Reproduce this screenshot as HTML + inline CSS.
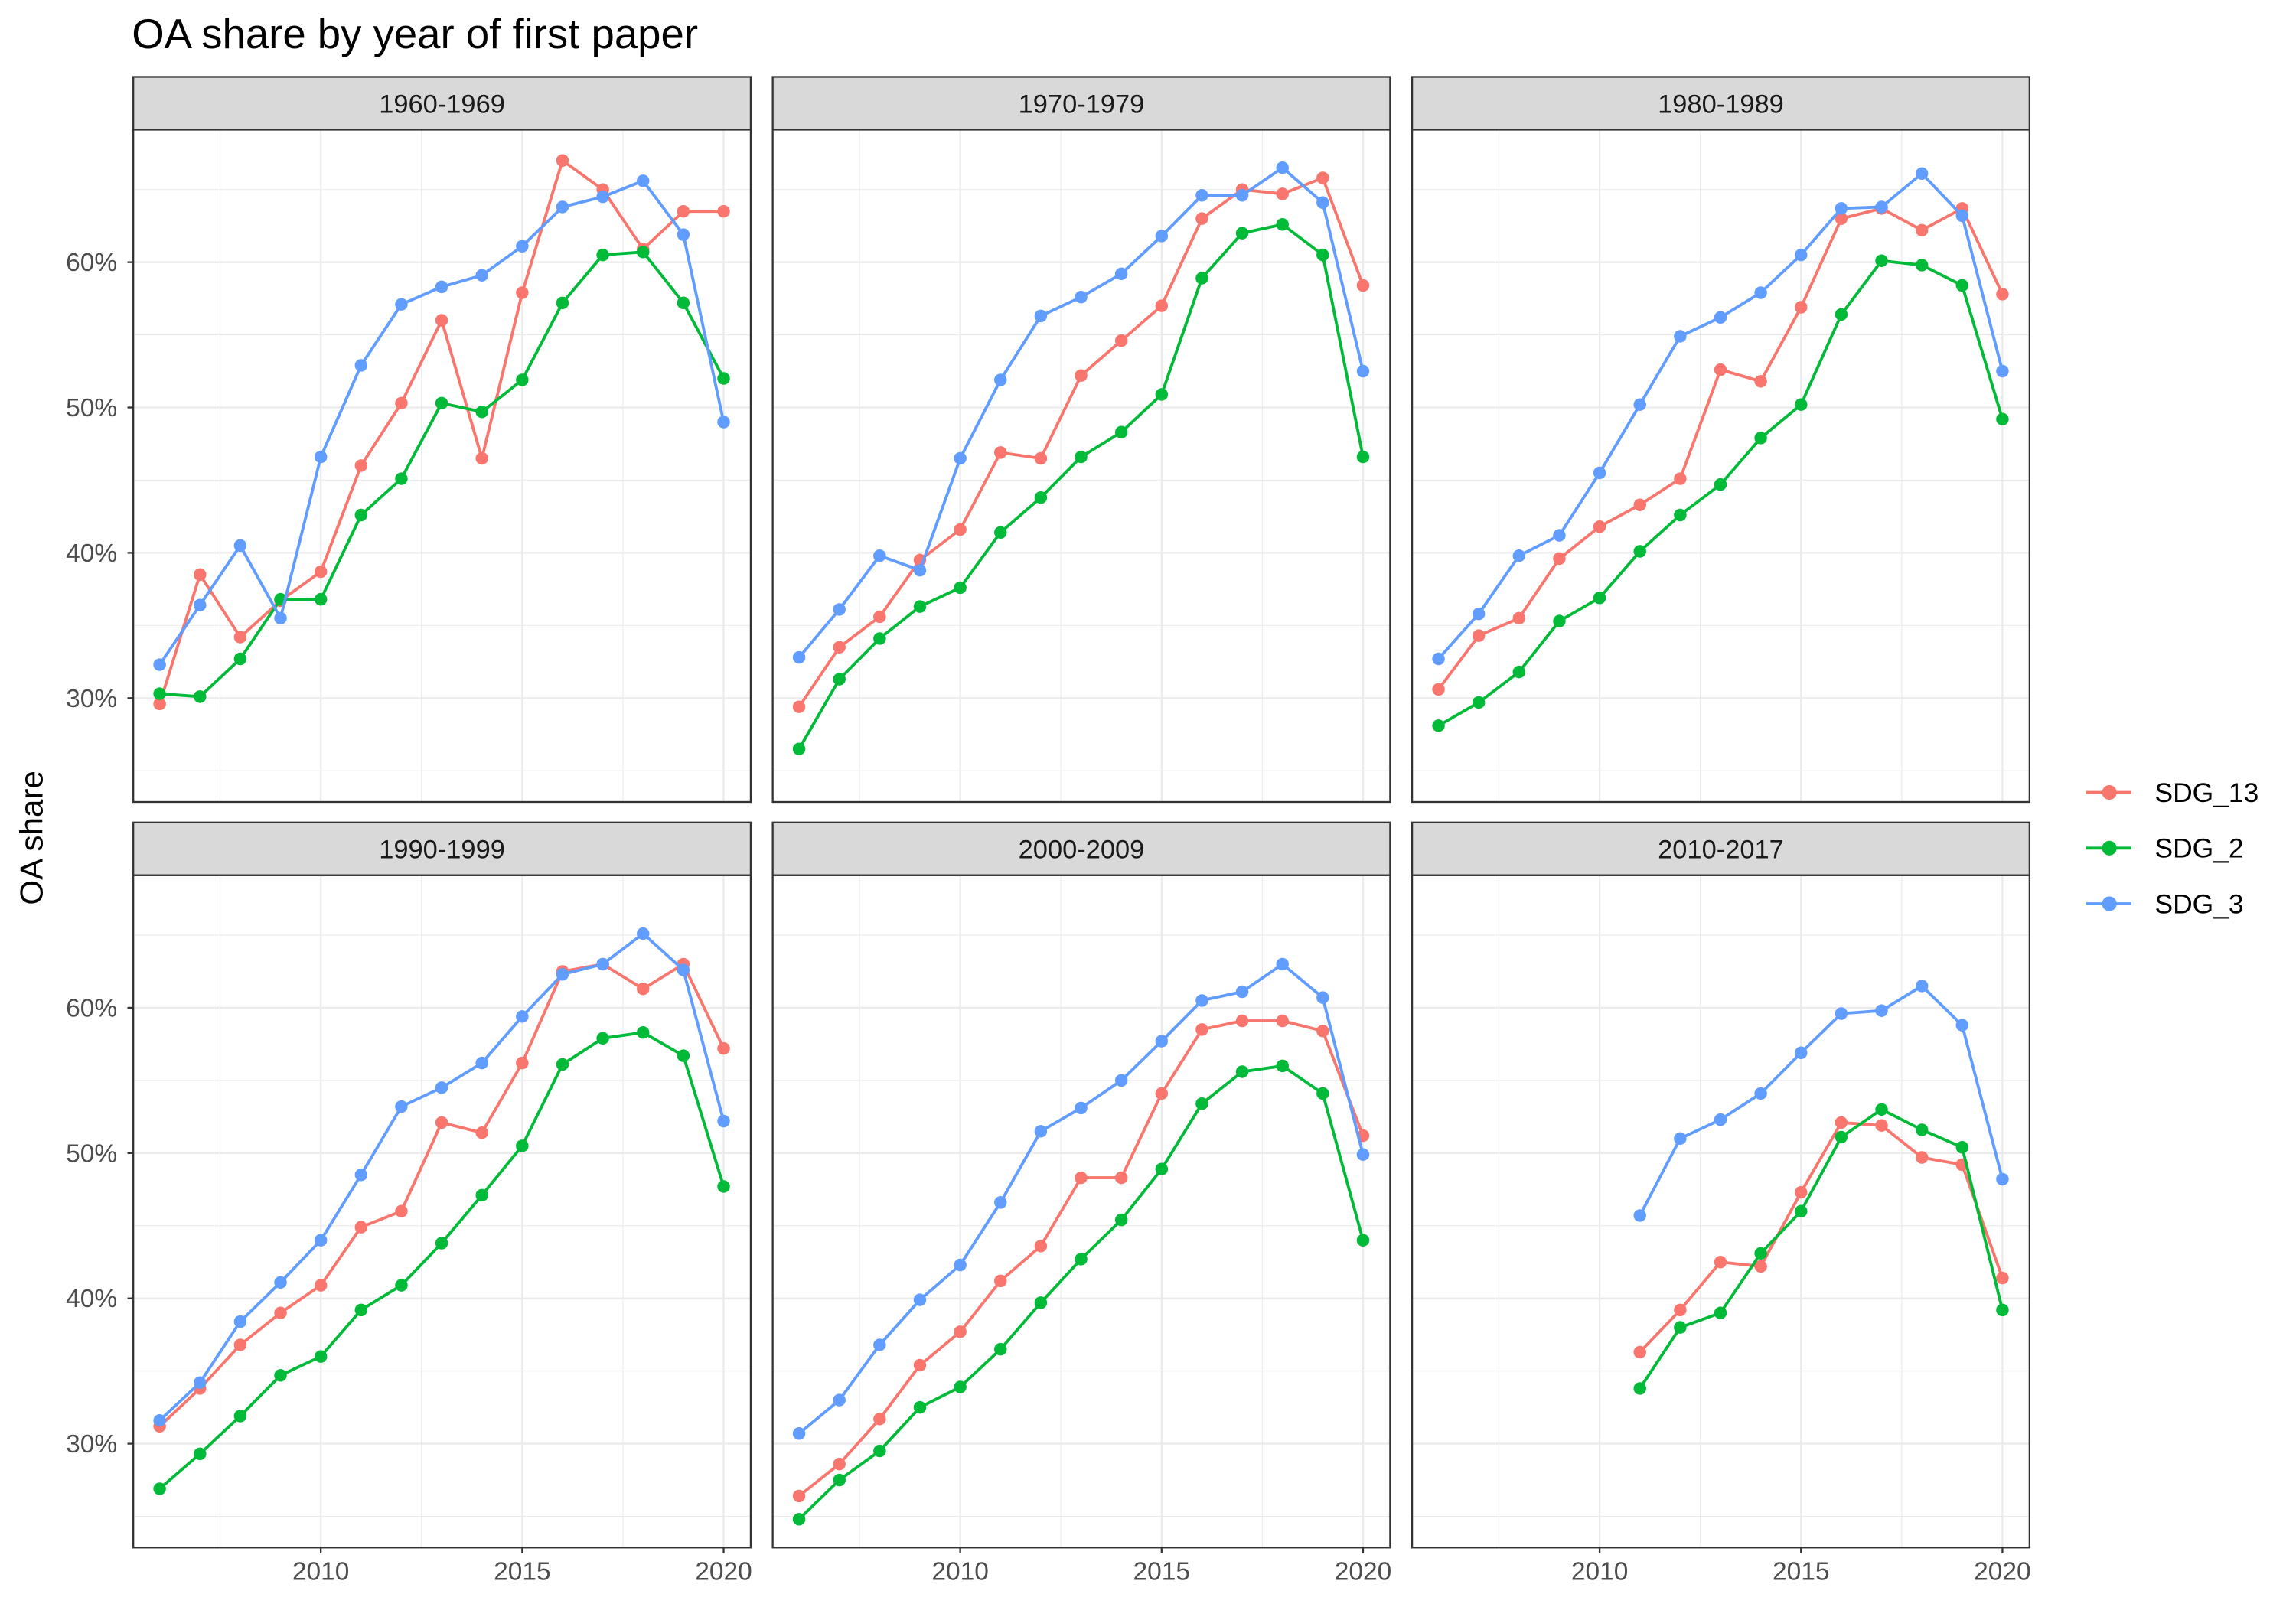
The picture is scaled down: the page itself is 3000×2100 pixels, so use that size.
<!DOCTYPE html>
<html><head><meta charset="utf-8"><style>
html,body{margin:0;padding:0;background:#fff;}
svg{display:block;font-family:"Liberation Sans",sans-serif;}
</style></head><body>
<svg id="chart" width="3000" height="2100" viewBox="0 0 1567.4 1097.1" preserveAspectRatio="none" xmlns="http://www.w3.org/2000/svg">
<rect x="0" y="0" width="1567.4" height="1097.1" fill="#fff"/>
<text x="90" y="33" font-size="28.5" fill="#000">OA share by year of first paper</text>
<text transform="translate(29,572) rotate(-90)" text-anchor="middle" font-size="22" fill="#000">OA share</text>
<g id="panels"></g>
<g id="legend"></g>
</svg>
<script>
const years = [2006,2007,2008,2009,2010,2011,2012,2013,2014,2015,2016,2017,2018,2019,2020];
const years6 = [2011,2012,2013,2014,2015,2016,2017,2018,2019,2020];
const panelTitles = ["1960-1969","1970-1979","1980-1989","1990-1999","2000-2009","2010-2017"];
const seriesNames = ["SDG_13","SDG_2","SDG_3"];
const yTicks = [30,40,50,60];
const yTickLabels = ["30%","40%","50%","60%"];
const xTicks = [2010,2015,2020];
const xTickLabels = ["2010","2015","2020"];

const p1_sdg13 = [29.6,38.5,34.2,36.7,38.7,46.0,50.3,56.0,46.5,57.9,67.0,65.0,60.9,63.5,63.5];
const p1_sdg2  = [30.3,30.1,32.7,36.8,36.8,42.6,45.1,50.3,49.7,51.9,57.2,60.5,60.7,57.2,52.0];
const p1_sdg3  = [32.3,36.4,40.5,35.5,46.6,52.9,57.1,58.3,59.1,61.1,63.8,64.5,65.6,61.9,49.0];
const p2_sdg13 = [29.4,33.5,35.6,39.5,41.6,46.9,46.5,52.2,54.6,57.0,63.0,65.0,64.7,65.8,58.4];
const p2_sdg2  = [26.5,31.3,34.1,36.3,37.6,41.4,43.8,46.6,48.3,50.9,58.9,62.0,62.6,60.5,46.6];
const p2_sdg3  = [32.8,36.1,39.8,38.8,46.5,51.9,56.3,57.6,59.2,61.8,64.6,64.6,66.5,64.1,52.5];
const p3_sdg13 = [30.6,34.3,35.5,39.6,41.8,43.3,45.1,52.6,51.8,56.9,63.0,63.7,62.2,63.7,57.8];
const p3_sdg2  = [28.1,29.7,31.8,35.3,36.9,40.1,42.6,44.7,47.9,50.2,56.4,60.1,59.8,58.4,49.2];
const p3_sdg3  = [32.7,35.8,39.8,41.2,45.5,50.2,54.9,56.2,57.9,60.5,63.7,63.8,66.1,63.2,52.5];
const p4_sdg13 = [31.2,33.8,36.8,39.0,40.9,44.9,46.0,52.1,51.4,56.2,62.5,63.0,61.3,63.0,57.2];
const p4_sdg2  = [26.9,29.3,31.9,34.7,36.0,39.2,40.9,43.8,47.1,50.5,56.1,57.9,58.3,56.7,47.7];
const p4_sdg3  = [31.6,34.2,38.4,41.1,44.0,48.5,53.2,54.5,56.2,59.4,62.3,63.0,65.1,62.6,52.2];
const p5_sdg13 = [26.4,28.6,31.7,35.4,37.7,41.2,43.6,48.3,48.3,54.1,58.5,59.1,59.1,58.4,51.2];
const p5_sdg2  = [24.8,27.5,29.5,32.5,33.9,36.5,39.7,42.7,45.4,48.9,53.4,55.6,56.0,54.1,44.0];
const p5_sdg3  = [30.7,33.0,36.8,39.9,42.3,46.6,51.5,53.1,55.0,57.7,60.5,61.1,63.0,60.7,49.9];
const p6_sdg13 = [36.3,39.2,42.5,42.2,47.3,52.1,51.9,49.7,49.2,41.4];
const p6_sdg2  = [33.8,38.0,39.0,43.1,46.0,51.1,53.0,51.6,50.4,39.2];
const p6_sdg3  = [45.7,51.0,52.3,54.1,56.9,59.6,59.8,61.5,58.8,48.2];

const colors = ["#F8766D","#00BA38","#619CFF"];
const panelSeries = [
  [p1_sdg13,p1_sdg2,p1_sdg3],[p2_sdg13,p2_sdg2,p2_sdg3],[p3_sdg13,p3_sdg2,p3_sdg3],
  [p4_sdg13,p4_sdg2,p4_sdg3],[p5_sdg13,p5_sdg2,p5_sdg3],[p6_sdg13,p6_sdg2,p6_sdg3]
];
const panelYears = [years,years,years,years,years,years6];

const NS="http://www.w3.org/2000/svg";
function mk(tag, attrs, parent){const e=document.createElementNS(NS,tag);for(const k in attrs)e.setAttribute(k,attrs[k]);if(parent)parent.appendChild(e);return e;}

const colX=[91,527.5,964], PW=421.5;
const rowY=[88.5,597.5], PH=459;
function xScale(yr){return 18 + (yr-2006)*27.5;}
function yScale(v){return 90.5 + (60-v)*9.92;}

const root=document.getElementById('panels');
for(let p=0;p<6;p++){
  const c=p%3, r=Math.floor(p/3);
  const ox=colX[c], oy=rowY[r];
  const g=mk('g',{transform:`translate(${ox},${oy})`},root);
  
  
  mk('rect',{x:0,y:0,width:PW,height:PH,fill:'#fff'},g);
  for(const v of [25,35,45,55,65]) mk('line',{x1:0,x2:PW,y1:yScale(v),y2:yScale(v),stroke:'#EBEBEB','stroke-width':0.6},g);
  for(const yr of [2007.5,2012.5,2017.5]) mk('line',{x1:xScale(yr),x2:xScale(yr),y1:0,y2:PH,stroke:'#EBEBEB','stroke-width':0.6},g);
  for(const v of yTicks) mk('line',{x1:0,x2:PW,y1:yScale(v),y2:yScale(v),stroke:'#EBEBEB','stroke-width':1.2},g);
  for(const yr of xTicks) mk('line',{x1:xScale(yr),x2:xScale(yr),y1:0,y2:PH,stroke:'#EBEBEB','stroke-width':1.2},g);
  const yrs=panelYears[p];
  panelSeries[p].forEach((vals,si)=>{
    const sg=mk('g',{},g);
    
    
    const pts=vals.map((v,i)=>xScale(yrs[i]).toFixed(2)+','+yScale(v).toFixed(2)).join(' ');
    const pl=mk('polyline',{points:pts,fill:'none',stroke:colors[si],'stroke-width':2,'stroke-linejoin':'round'},sg);
    
    
    vals.forEach((v,i)=>{
      const ci=mk('circle',{cx:xScale(yrs[i]),cy:yScale(v),r:4.3,fill:colors[si]},sg);
      
      
    });
  });
  mk('rect',{x:0,y:0,width:PW,height:PH,fill:'none',stroke:'#333','stroke-width':1.2},g);
  const st=mk('g',{},g);
  
  
  mk('rect',{x:0,y:-36,width:PW,height:36,fill:'#D9D9D9',stroke:'#333','stroke-width':1.2},st);
  const tt=mk('text',{x:PW/2,y:-11.5,'text-anchor':'middle','font-size':18,fill:'#1A1A1A'},st);
  tt.textContent=panelTitles[p];
  if(c===0){
    yTicks.forEach((v,i)=>{
      mk('line',{x1:-4,x2:0,y1:yScale(v),y2:yScale(v),stroke:'#333','stroke-width':1.2},g);
      const t=mk('text',{x:-11,y:yScale(v)+6,'text-anchor':'end','font-size':17.5,fill:'#4D4D4D'},g);
      
      
      t.textContent=yTickLabels[i];
    });
  }
  if(r===1){
    xTicks.forEach((yr,i)=>{
      mk('line',{x1:xScale(yr),x2:xScale(yr),y1:PH,y2:PH+4,stroke:'#333','stroke-width':1.2},g);
      const t=mk('text',{x:xScale(yr),y:PH+22,'text-anchor':'middle','font-size':17.5,fill:'#4D4D4D'},g);
      
      
      t.textContent=xTickLabels[i];
    });
  }
}
const lg=document.getElementById('legend');
seriesNames.forEach((n,i)=>{
  const y=541+i*38;
  const e=mk('g',{},lg);
  
  
  mk('line',{x1:1424,x2:1455,y1:y,y2:y,stroke:colors[i],'stroke-width':2},e);
  mk('circle',{cx:1440,cy:y,r:5,fill:colors[i]},e);
  const t=mk('text',{x:1471,y:y+6.5,'font-size':18.5,fill:'#000'},e);
  t.textContent=n;
});
</script>
</body></html>
